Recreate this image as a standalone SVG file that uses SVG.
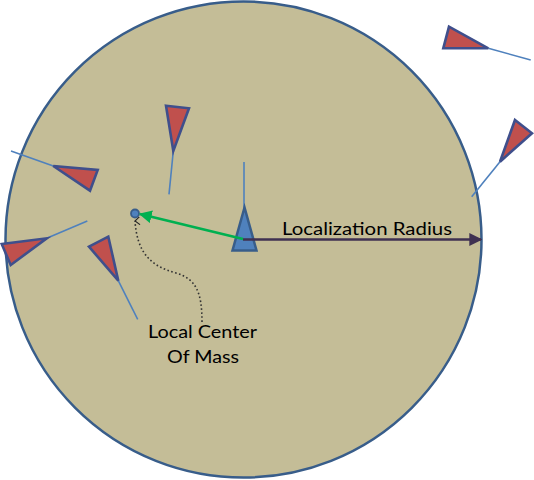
<svg xmlns="http://www.w3.org/2000/svg" width="534" height="480" viewBox="0 0 534 480">
<style>
.agent{fill:#c0504d;stroke:#3f4f8c;stroke-width:2.6;stroke-linejoin:miter}
.tail{stroke:#4f81bd;stroke-width:1.6;fill:none}
.lbl{font-family:Lato,"Open Sans","Liberation Sans",sans-serif;font-size:17.5px;fill:#000}
</style>
<defs>
<marker id="ag" viewBox="0 0 10 10" refX="9" refY="5" markerWidth="5" markerHeight="5" orient="auto" markerUnits="strokeWidth"><path d="M0,0L10,5L0,10z" fill="#00b050"/></marker>
<marker id="ad" viewBox="0 0 10 10" refX="9" refY="5" markerWidth="5" markerHeight="5" orient="auto" markerUnits="strokeWidth"><path d="M0,0L10,5L0,10z" fill="#3f3151"/></marker>
<marker id="av" viewBox="0 0 10 10" refX="5" refY="1" markerWidth="8" markerHeight="8" orient="auto-start-reverse" markerUnits="userSpaceOnUse"><path d="M0,7L5,1L10,7" fill="none" stroke="#222" stroke-width="1.3"/></marker>
</defs>
<rect width="534" height="480" fill="#fff"/>
<g id="radius-circle"><circle cx="243.5" cy="239.5" r="238" fill="#c4bd97" stroke="#385d8a" stroke-width="2.5"/></g>
<g id="agent-top"><line class="tail" x1="173.3" y1="151" x2="169" y2="194.3"/><polygon class="agent" points="166,105.7 189,108.3 173.3,151"/></g>
<g id="agent-left-upper"><line class="tail" x1="53.3" y1="166" x2="11" y2="151"/><polygon class="agent" points="53.3,166 97.7,170 90,190.7"/></g>
<g id="agent-left-lower"><line class="tail" x1="46.7" y1="238.3" x2="87.3" y2="221"/><polygon class="agent" points="1.7,244 46.7,238.3 10.7,265"/></g>
<g id="agent-lower"><line class="tail" x1="118.3" y1="280.7" x2="137.7" y2="319.3"/><polygon class="agent" points="89,246.7 108.3,236.7 118.3,280.7"/></g>
<g id="agent-outside-top"><line class="tail" x1="488.3" y1="48.3" x2="530.7" y2="60"/><polygon class="agent" points="449,26.7 443.3,48.3 488.3,48.3"/></g>
<g id="agent-outside-right"><line class="tail" x1="500" y1="161.7" x2="471.7" y2="196.7"/><polygon class="agent" points="515,120 532,133.3 500,161.7"/></g>
<g id="agent-center"><line x1="244" y1="162" x2="244" y2="208" stroke="#4f81bd" stroke-width="1.6"/><polygon points="244.5,207.5 232.5,250.5 256.5,250.5" fill="#4f81bd" stroke="#385d8a" stroke-width="2.5"/></g>
<g id="center-of-mass"><circle cx="135" cy="213.5" r="4" fill="#4f81bd" stroke="#385d8a" stroke-width="1.8"/></g>
<g id="connectors">
<line x1="243" y1="239" x2="140" y2="214" stroke="#00b050" stroke-width="2.6" marker-end="url(#ag)"/>
<line x1="243" y1="239.5" x2="481" y2="239.5" stroke="#3f3151" stroke-width="2.6" marker-end="url(#ad)"/>
<path d="M202,322 C202,292 196,279 176,273 C150,266 137,252 135,221" fill="none" stroke="#333" stroke-width="1.6" stroke-dasharray="1.6,2.4" marker-end="url(#av)"/>
</g>
<g id="labels">
<text class="lbl" x="282" y="235" textLength="170" lengthAdjust="spacingAndGlyphs">Localization Radius</text>
<text class="lbl" x="148" y="338" textLength="109" lengthAdjust="spacingAndGlyphs">Local Center</text>
<text class="lbl" x="167" y="363" textLength="72" lengthAdjust="spacingAndGlyphs">Of Mass</text>
</g>
</svg>
